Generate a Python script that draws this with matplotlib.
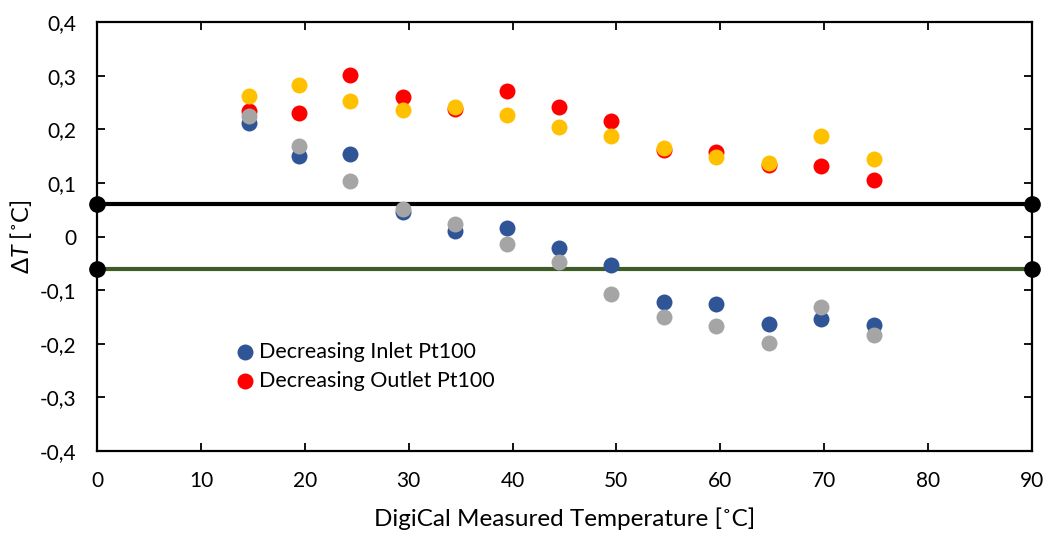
import matplotlib
matplotlib.use("Agg")
import matplotlib.pyplot as plt
from matplotlib.ticker import FuncFormatter, MultipleLocator

plt.rcParams['font.family'] = ['Lato', 'DejaVu Sans']
plt.rcParams['mathtext.fontset'] = 'custom'
plt.rcParams['mathtext.it'] = 'Lato:italic'
plt.rcParams['mathtext.rm'] = 'Lato'

# measured temperatures, one per calibration step
temp = [14.6, 19.4, 24.4, 29.45, 34.45, 39.5, 44.5, 49.5, 54.6, 59.6, 64.7, 69.7, 74.8]

dec_inlet = [0.211, 0.150, 0.153, 0.046, 0.010, 0.016, -0.021, -0.053, -0.122, -0.125, -0.163, -0.153, -0.165]
dec_outlet = [0.235, 0.230, 0.301, 0.261, 0.237, 0.271, 0.242, 0.215, 0.161, 0.157, 0.133, 0.132, 0.105]
inc_outlet = [0.262, 0.283, 0.253, 0.236, 0.242, 0.226, 0.205, 0.188, 0.165, 0.149, 0.137, 0.188, 0.145]
inc_inlet = [0.224, 0.169, 0.104, 0.051, 0.023, -0.014, -0.048, -0.107, -0.150, -0.167, -0.198, -0.132, -0.184]

limit_x = [0, 90]
upper_limit = [0.06, 0.06]
lower_limit = [-0.06, -0.06]

fig = plt.figure(figsize=(10.48, 5.37), dpi=100)
ax = fig.add_axes([0.0926, 0.160, 0.892, 0.799])

ms = 132
ax.plot(limit_x, upper_limit, color='black', lw=3, marker='o', ms=11, zorder=2, clip_on=False)
ax.plot(limit_x, lower_limit, color='#3E5C27', lw=3, zorder=2)
ax.plot(limit_x, lower_limit, color='black', lw=0, marker='o', ms=11, zorder=2, clip_on=False)

ax.scatter(temp, dec_inlet, s=ms, color='#2F5597', lw=0, zorder=3, label='Decreasing Inlet Pt100')
ax.scatter(temp, dec_outlet, s=ms, color='#FF0000', lw=0, zorder=3, label='Decreasing Outlet Pt100')
ax.scatter(temp, inc_outlet, s=ms, color='#FFC000', lw=0, zorder=4)
ax.scatter(temp, inc_inlet, s=ms, color='#A5A5A5', lw=0, zorder=4)

ax.set_xlim(0, 90)
ax.set_ylim(-0.4, 0.4)
ax.xaxis.set_major_locator(MultipleLocator(10))
ax.yaxis.set_major_locator(MultipleLocator(0.1))

def comma(v, pos):
    if abs(v) < 1e-9:
        return '0'
    return ('%.1f' % v).replace('.', ',')

ax.yaxis.set_major_formatter(FuncFormatter(comma))
ax.tick_params(axis='both', direction='in', length=6, width=1.3, labelsize=15,
               top=True, right=True)
ax.tick_params(axis='x', pad=14)
ax.tick_params(axis='y', pad=15)
for s in ax.spines.values():
    s.set_linewidth(1.6)

ax.set_xlabel('DigiCal Measured Temperature [˚C]', fontsize=17.5, labelpad=12)
ax.set_ylabel(r'Δ$T$ [˚C]', fontsize=17, labelpad=4)

ax.legend(loc='upper left', bbox_to_anchor=(0.126, 0.275), frameon=False, fontsize=15.5,
          handletextpad=-0.35, borderaxespad=0, labelspacing=0.42, scatterpoints=1)

fig.savefig('out.png', dpi=100)
